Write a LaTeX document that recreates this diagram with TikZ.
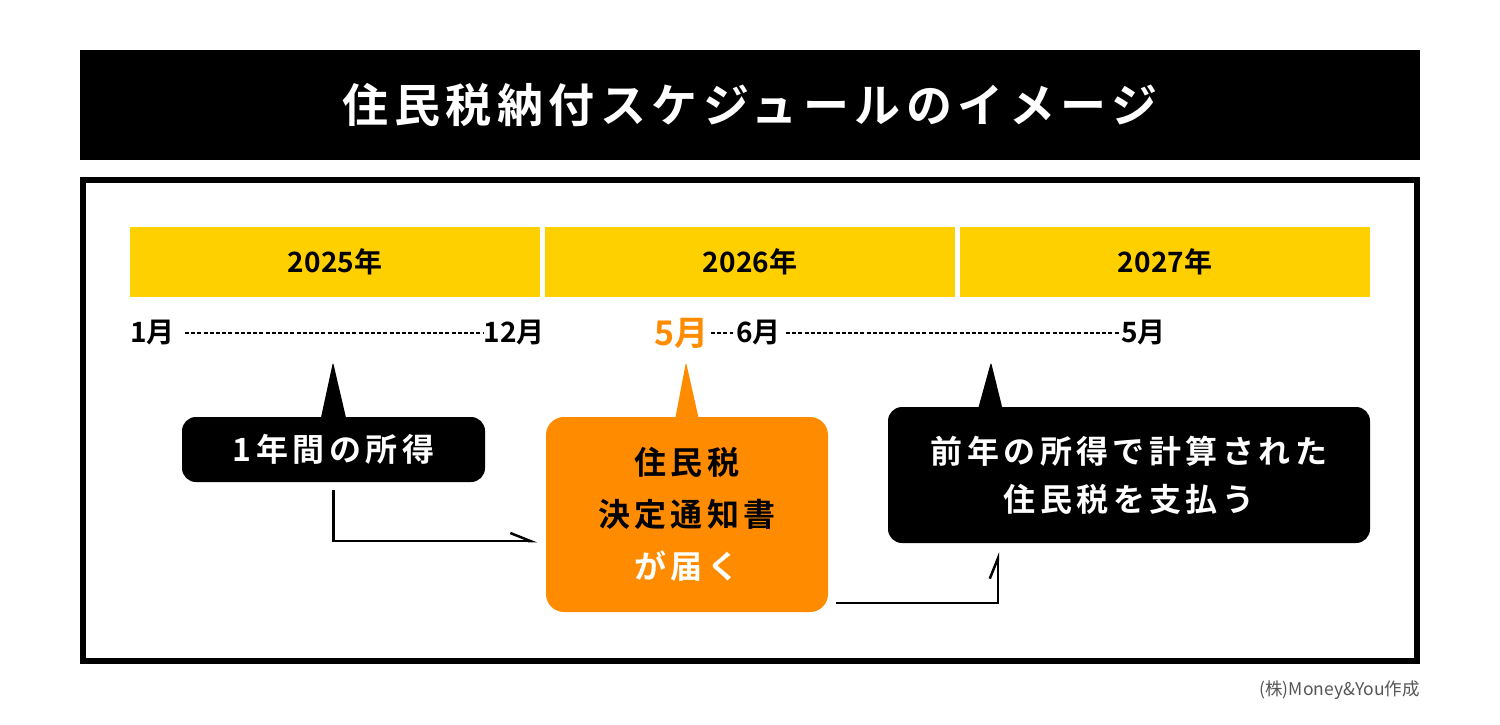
\documentclass[tikz,border=0pt]{standalone}
\usepackage{fontspec}
\setmainfont{Noto Sans CJK JP}[BoldFont={Noto Sans CJK JP Bold}]
\newfontfamily\titlefont{Noto Sans CJK JP Bold}[LetterSpace=12]
\newfontfamily\boxfont{Noto Sans CJK JP Bold}[LetterSpace=14]
\usepackage{xcolor}
\usetikzlibrary{arrows.meta, positioning, calc}

\definecolor{barY}{HTML}{FFD000}
\definecolor{noticeO}{HTML}{FF8C00}
\definecolor{creditG}{HTML}{555555}

\begin{document}
\begin{tikzpicture}[x=1pt, y=-1pt,
  yearbar/.style = {fill=barY, minimum width=410pt, minimum height=70pt, inner sep=0pt,
                    font=\bfseries\fontsize{28}{32}\selectfont},
  mon/.style     = {inner sep=0pt, font=\bfseries\fontsize{28}{32}\selectfont},
  dots/.style    = {line width=2pt, dash pattern=on 4pt off 2.2pt},
  callout/.style = {fill=black, text=white, rounded corners=14pt, align=center, inner sep=0pt},
  flow/.style    = {-{Straight Barb[harpoon,length=20pt,width=16pt]}, line width=2.5pt},
]
  \useasboundingbox (0,0) rectangle (1500,725);

  % title and frame
  \node[fill=black, text=white, minimum width=1340pt, minimum height=110pt, inner sep=0pt,
        font=\titlefont\fontsize{46}{50}\selectfont] (title) at (750,105) {住民税納付スケジュールのイメージ};
  \draw[line width=6pt] (83,180) rectangle (1417,661);

  % years
  \node[yearbar] (y2025) at (335,262)  {2025年};
  \node[yearbar] (y2026) at (750,262)  {2026年};
  \node[yearbar] (y2027) at (1165,262) {2027年};

  % months
  \node[mon, anchor=west] (jan)   at (130,333)  {1月};
  \node[mon, anchor=east] (dec)   at (545,333)  {12月};
  \node[mon, anchor=east, text=noticeO, font=\bfseries\fontsize{34}{38}\selectfont] (may)
        at (709,333) {5月};
  \node[mon, anchor=west] (jun)   at (736,333)  {6月};
  \node[mon, anchor=east] (mayB)  at (1166,333) {5月};
  \draw[dots] ([xshift=10pt]jan.east) -- ([xshift=-1pt]dec.west);
  \draw[dots] ([xshift=2pt]may.east)  -- ([xshift=-3pt]jun.west);
  \draw[dots] ([xshift=5pt]jun.east)  -- ([xshift=-1pt]mayB.west);

  % callouts
  \node[callout, minimum width=303pt, minimum height=65pt,
        font=\boxfont\fontsize{32}{36}\selectfont] (inc) at (333.5,449.5) {1年間の所得};
  \node[callout, fill=noticeO, text=black, rounded corners=18pt, minimum width=282pt, minimum height=195pt,
        font=\boxfont\fontsize{32}{52}\selectfont] (notice) at (687,514.5)
        {住民税\\決定通知書\\\textcolor{white}{が届く}};
  \node[callout, minimum width=482pt, minimum height=136pt,
        font=\boxfont\fontsize{32}{48}\selectfont] (pay) at (1129,475)
        {前年の所得で計算された\\住民税を支払う};

  \coordinate (incTip)    at (333,362);
  \coordinate (noticeTip) at (686,362);
  \coordinate (payTip)    at (991,362);
  \fill[rounded corners=2.5pt] ($(inc.north)+(-13,3)$) -- (incTip) -- ($(inc.north)+(13,3)$) -- cycle;
  \fill[noticeO, rounded corners=2.5pt] ($(notice.north)+(-12,3)$) -- (noticeTip) -- ($(notice.north)+(12,3)$) -- cycle;
  \fill[rounded corners=2.5pt] ($(pay.north west)+(90,3)$) -- (payTip) -- ($(pay.north west)+(115,3)$) -- cycle;

  % arrows
  \draw[flow] ([yshift=-8pt]inc.south) |- ([xshift=-9pt,yshift=-26.5pt]notice.west);
  \draw[flow] ([xshift=8pt,yshift=-88.5pt]notice.east) -| ([xshift=110pt,yshift=-9pt]pay.south west);

  % credit
  \node[anchor=east, inner sep=0pt, text=creditG, font=\fontsize{17.5}{20}\selectfont] (credit)
        at (1420,690) {(株)Money\&You作成};
\end{tikzpicture}
\end{document}
